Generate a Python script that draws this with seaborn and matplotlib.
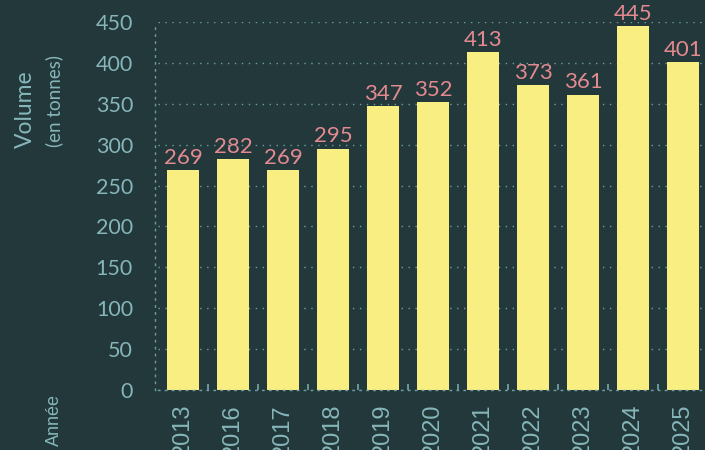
import numpy as np
import matplotlib
matplotlib.use('Agg')
import matplotlib.pyplot as plt
import seaborn as sns

# data
years = ['2013', '2016', '2017', '2018', '2019', '2020', '2021', '2022', '2023', '2024', '2025']
volumes = [269, 282, 269, 295, 347, 352, 413, 373, 361, 445, 401]

bg = '#22383a'
bar_col = '#f9ee82'
lab_col = '#e38a91'
txt_col = '#86b6ba'
grid_col = '#6f9ea2'

sns.set_theme(style='white')
plt.rcParams['font.family'] = ['Lato', 'DejaVu Sans']

fig = plt.figure(figsize=(7.05, 4.5), dpi=100, facecolor=bg)
ax = fig.add_axes([158 / 705, 60 / 450, 550 / 705, 368 / 450])
ax.set_facecolor(bg)

sns.barplot(x=years, y=volumes, color=bar_col, width=0.64, saturation=1,
            linewidth=0, edgecolor=bar_col, ax=ax)

for i, v in enumerate(volumes):
    ax.text(i, v + 3, str(v), ha='center', va='bottom', color=lab_col, fontsize=16)

ax.set_ylim(0, 450)
ax.set_xlim(-0.5, len(years) - 0.5)
ax.set_yticks(np.arange(0, 451, 50))
ax.yaxis.grid(True, linestyle=(0, (1, 4)), color=grid_col, linewidth=1)
ax.set_axisbelow(True)

for s in ['top', 'right']:
    ax.spines[s].set_visible(False)
for s in ['left', 'bottom']:
    ax.spines[s].set_visible(True)
    ax.spines[s].set_color(grid_col)
    ax.spines[s].set_linestyle((0, (1, 4)))
    ax.spines[s].set_linewidth(1)
ax.spines['left'].set_position(('outward', 2))

ax.tick_params(axis='y', length=0, pad=16, labelcolor=txt_col, labelsize=15.5)
ax.tick_params(axis='x', length=0, pad=10, labelcolor=txt_col, labelsize=17, labelrotation=90)
for t in ax.get_xticklabels():
    t.set_fontfamily(['Liberation Sans', 'DejaVu Sans'])

# small ticks between the bars (x in data, height in axes fraction)
sep = np.arange(0.5, len(years) - 1, 1.0)
ax.vlines(sep, 0, 6 / 368, transform=ax.get_xaxis_transform(), color=grid_col,
          linewidth=1.3, clip_on=False)

ax.set_xlabel('')
ax.set_ylabel('')
fig.text(25 / 705, 1 - 109 / 450, 'Volume', rotation=90, ha='center', va='center',
         color=txt_col, fontsize=16.5)
fig.text(54 / 705, 1 - 101 / 450, '(en tonnes)', rotation=90, ha='center', va='center',
         color=txt_col, fontsize=13.5)
fig.text(54 / 705, 1 - 420 / 450, 'Année', rotation=90, ha='center', va='center',
         color=txt_col, fontsize=13, family=['Liberation Sans', 'DejaVu Sans'])

fig.savefig('out.png', dpi=100, facecolor=bg)
